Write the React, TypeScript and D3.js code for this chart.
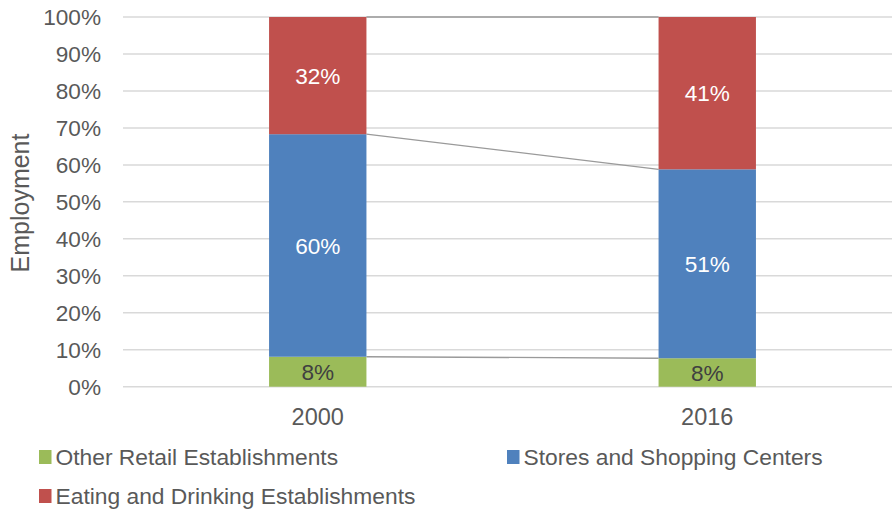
import React from "react";
import * as d3 from "d3";

const categories = ["2000", "2016"];
const seriesNames = ["Other Retail Establishments", "Stores and Shopping Centers", "Eating and Drinking Establishments"];
const otherRetail = [8.1, 7.7];
const storesShopping = [60.2, 51.1];
const eatingDrinking = [31.7, 41.2];
const valueLabels = [["8%", "8%"], ["60%", "51%"], ["32%", "41%"]];
const yTicks = [0, 10, 20, 30, 40, 50, 60, 70, 80, 90, 100];
const colors = ["#9BBB59", "#4F81BD", "#C0504D"];
const labelColors = ["#404040", "#ffffff", "#ffffff"];

const W = 892, H = 509;
const FONT = "'Liberation Sans', Arial, sans-serif";

export default function App() {
  const x = d3.scaleBand<string>().domain(categories).range([123, 902]).paddingInner(0.75).paddingOuter(0.375);
  const y = d3.scaleLinear().domain([0, 100]).range([386.7, 17]);
  const rows = categories.map((c, i) => ({
    cat: c,
    s0: otherRetail[i],
    s1: storesShopping[i],
    s2: eatingDrinking[i],
  }));
  const stack = d3.stack<any>().keys(["s0", "s1", "s2"]);
  const stacked = stack(rows);
  const bw = x.bandwidth();

  return (
    <svg width={W} height={H} style={{ position: "absolute", left: 0, top: 0, background: "#fff" }} fontFamily={FONT}>
      {yTicks.map((t) => (
        <g key={t}>
          <line x1={123} x2={892} y1={y(t)} y2={y(t)} stroke="#d9d9d9" strokeWidth={1.5} />
          <text x={101} y={y(t)} dy="0.36em" textAnchor="end" fontSize={22.6} fill="#595959">{t}%</text>
        </g>
      ))}
      {stacked.map((layer, li) => (
        <g key={li}>
          <line
            x1={(x(categories[0]) as number) + bw}
            y1={y(layer[0][1])}
            x2={x(categories[1]) as number}
            y2={y(layer[1][1])}
            stroke="#9a9a9a"
            strokeWidth={1.3}
          />
          {layer.map((d, i) => (
            <rect key={i} x={x(categories[i])} y={y(d[1])} width={bw} height={y(d[0]) - y(d[1])} fill={colors[li]} />
          ))}
          {layer.map((d, i) => (
            <text key={"t" + i} x={(x(categories[i]) as number) + bw / 2} y={(y(d[0]) + y(d[1])) / 2} dy="0.36em"
              textAnchor="middle" fontSize={22.6} fill={labelColors[li]}>{valueLabels[li][i]}</text>
          ))}
        </g>
      ))}
      {categories.map((c) => (
        <text key={c} x={(x(c) as number) + bw / 2} y={417} dy="0.36em" textAnchor="middle" fontSize={23.5} fill="#595959">{c}</text>
      ))}
      <text transform="translate(20,203) rotate(-90)" textAnchor="middle" dy="0.36em" fontSize={25} fill="#595959">Employment</text>
      {seriesNames.map((n, i) => {
        const lx = i === 1 ? 507 : 39;
        const ly = i === 2 ? 496 : 457;
        return (
          <g key={n}>
            <rect x={lx} y={ly - 7} width={12.5} height={14} fill={colors[i]} />
            <text x={lx + 16.5} y={ly} dy="0.36em" fontSize={22.8} fill="#595959">{n}</text>
          </g>
        );
      })}
    </svg>
  );
}
